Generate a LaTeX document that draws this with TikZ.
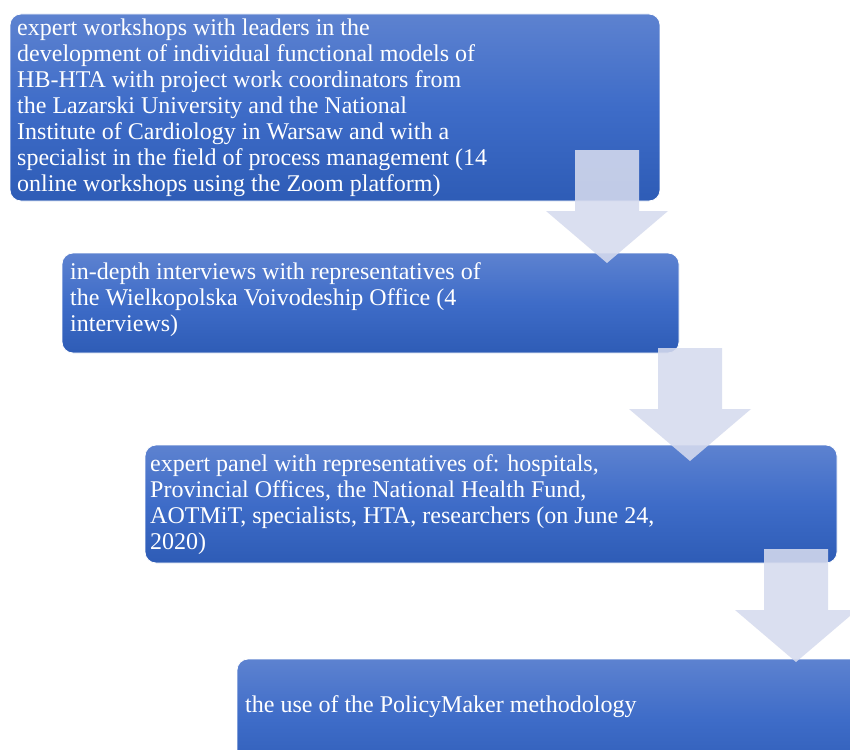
\documentclass[tikz,border=0pt]{standalone}
\usepackage{fontspec}
\setmainfont{Liberation Serif}
\usepackage{tikz}
\usetikzlibrary{positioning}
\usetikzlibrary{calc}
\definecolor{boxtop}{RGB}{93,130,208}
\definecolor{boxmid}{RGB}{62,108,200}
\definecolor{boxbot}{RGB}{46,92,182}
\definecolor{arrowc}{RGB}{214,219,238}
\tikzstyle{stage}=[rectangle,rounded corners=11pt,draw=white,line width=0.8pt,top color=boxtop,bottom color=boxbot,middle color=boxmid,text=white,align=left,anchor=north west,inner sep=0pt]
\tikzstyle{flow}=[fill=arrowc,fill opacity=0.88,draw=none]

\begin{document}
\begin{tikzpicture}[x=1pt,y=-1pt]
\useasboundingbox (0,0) rectangle (850,749);
\clip (0,0) rectangle (850,749);
\fill[white] (0,0) rectangle (850,749);
\tikzstyle{stagetext}=[anchor=west,align=left,text=white,inner sep=0pt,font=\fontsize{24}{26}\selectfont]
% boxes
\draw[stage] (10,14) rectangle (660,201);
\draw[stage] (62,253) rectangle (679,353);
\draw[stage] (145,445) rectangle (837,563);
\draw[stage] (237,659) rectangle (880,780);
\node[stagetext] (ws) at (17,108) {expert workshops with leaders in the\\development of individual functional models of\\HB-HTA with project work coordinators from\\the Lazarski University and the National\\Institute of Cardiology in Warsaw and with a\\specialist in the field of process management (14\\online workshops using the Zoom platform)};
\node[stagetext] (iv) at (70,300) {in-depth interviews with representatives of\\the Wielkopolska Voivodeship Office (4\\interviews)};
\node[stagetext] (ep) at (150,505) {expert panel with representatives of: hospitals,\\Provincial Offices, the National Health Fund,\\AOTMiT, specialists, HTA, researchers (on June 24,\\2020)};
\node[stagetext] (pm) at (245,707) {the use of the PolicyMaker methodology};
% block arrows
\foreach \cx/\top/\tip in {607/150/263, 690/348/461, 796/549/662}{
  \fill[flow] (\cx-32,\top) -- (\cx+32,\top) -- (\cx+32,\tip-52) -- (\cx+61,\tip-52)
    -- (\cx,\tip) -- (\cx-61,\tip-52) -- (\cx-32,\tip-52) -- cycle;
}
\end{tikzpicture}
\end{document}
